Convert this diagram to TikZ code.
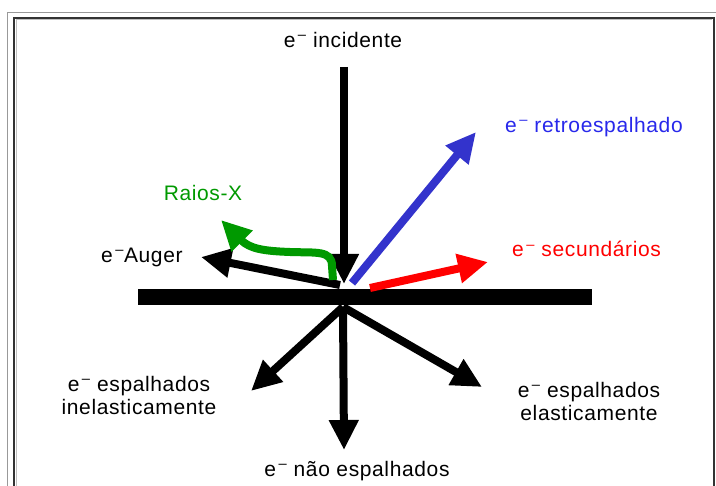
\documentclass[tikz,border=0pt]{standalone}
\usepackage{fontspec}
\setmainfont{Liberation Sans}
\newfontfamily\lblfont[LetterSpace=3]{Liberation Sans}
\usetikzlibrary{arrows.meta}
\definecolor{xgreen}{RGB}{0,153,0}
\definecolor{xblue}{RGB}{51,51,204}
\definecolor{xbluetext}{RGB}{40,40,235}
\definecolor{xred}{RGB}{255,0,0}
\newcommand{\elec}{e\textsuperscript{\,–}}
\begin{document}
\begin{tikzpicture}[x=1pt,y=-1pt,
  lbl/.style={inner sep=0pt,font=\lblfont\fontsize{21}{23}\selectfont,align=center},
  ray/.style={line width=8pt,-{Triangle[length=30pt,width=28pt]}},
  frameouter/.style={draw=gray!80,line width=1pt},
  frameinner/.style={draw=black!80,line width=1.6pt}]
\useasboundingbox (0,0) rectangle (716,486);
\fill[white] (0,0) rectangle (716,486);
% frame
\draw[frameouter] (7,490) -- (7,13) -- (720,13);
\draw[gray!50,line width=1pt] (16,490) -- (16,20) -- (712,20);
\draw[frameinner] (14,490) -- (14,18) -- (714,18) -- (714,490);
% target bar
\fill[black] (138,289) rectangle (592,305);
% coordinates
\coordinate (inS) at (344,67);
\coordinate (inE) at (344,284);
\coordinate (blS) at (352,283);
\coordinate (blE) at (476,132);
\coordinate (rdS) at (370,288);
\coordinate (rdE) at (488,262);
\coordinate (auS) at (340,285);
\coordinate (auE) at (201,257);
\coordinate (grS) at (333,280);
\coordinate (grE) at (221,220);
\coordinate (ctr) at (343,307);
\coordinate (dlE) at (251,391);
\coordinate (ddE) at (344,450);
\coordinate (drE) at (482,387);
% arrows
\draw[ray] (inS) -- (inE);
\draw[ray,xblue] (blS) -- (blE);
\draw[ray,xred] (rdS) -- (rdE);
\draw[ray] (auS) -- (auE);
\draw[ray,xgreen] (grS) -- (332,266) .. controls (332,250) and (316,253) .. (290,252) .. controls (264,251) and (250,249) .. (grE);
\draw[ray] (ctr) -- (dlE);
\draw[ray] (ctr) -- (ddE);
\draw[ray] (ctr) -- (drE);
% labels
\node[lbl] (tInc) at (343,40) {\elec\ incidente};
\node[lbl,anchor=west,text=xbluetext] (tRetro) at (505,127) {\elec\ retroespalhado};
\node[lbl,text=xgreen] (tRaios) at (203,193) {Raios-X};
\node[lbl,anchor=west] (tAuger) at (101,257) {\elec Auger};
\node[lbl,anchor=west,text=xred] (tSec) at (512,249) {\elec\ secund\'arios};
\node[lbl] (tInel) at (139,395) {\elec\ espalhados\\inelasticamente};
\node[lbl] (tEl) at (589,401) {\elec\ espalhados\\elasticamente};
\node[lbl] (tNao) at (357,471) {\elec\ n\~ao espalhados};
\end{tikzpicture}
\end{document}
